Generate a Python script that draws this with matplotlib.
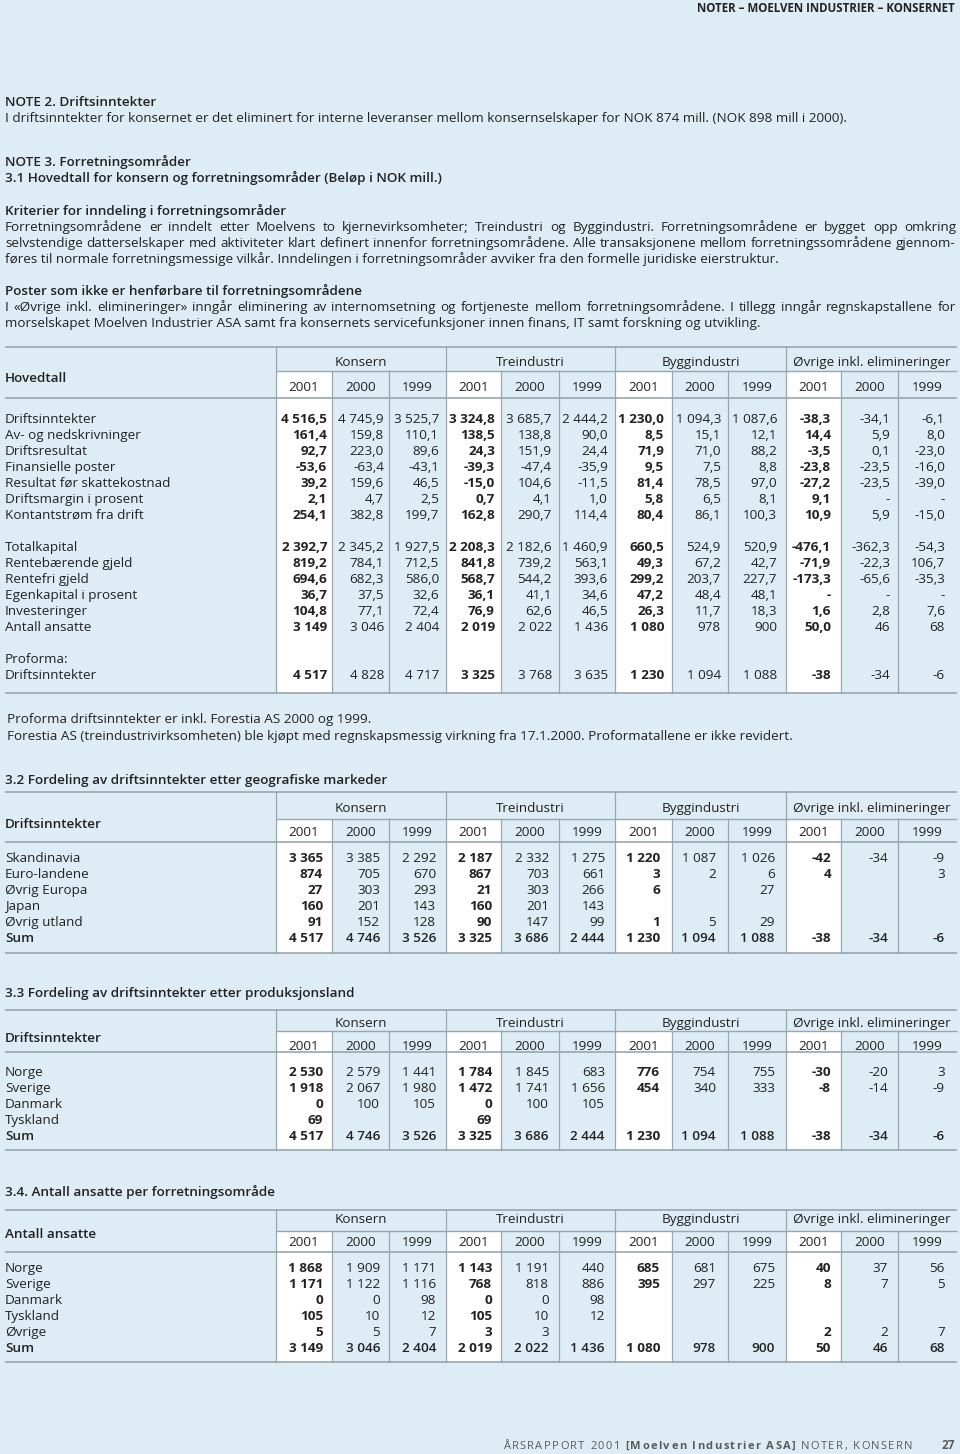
import matplotlib
matplotlib.use("Agg")
import matplotlib.pyplot as plt

plt.rcParams['font.family'] = ['Open Sans', 'DejaVu Sans']

BG = '#deedf5'
INK = '#222222'
RULE = '#98a6ae'

# ---------------------------------------------------------------- data
groups = ["Konsern", "Treindustri", "Byggindustri", "Øvrige inkl. elimineringer"]
years = ["2001", "2000", "1999"]

# 3.1 Hovedtall (NOK mill.)
t1_labels = ["Driftsinntekter", "Av- og nedskrivninger", "Driftsresultat", "Finansielle poster",
             "Resultat før skattekostnad", "Driftsmargin i prosent", "Kontantstrøm fra drift", "",
             "Totalkapital", "Rentebærende gjeld", "Rentefri gjeld", "Egenkapital i prosent",
             "Investeringer", "Antall ansatte", "", "Proforma:", "Driftsinntekter"]
t1_values = [
    ["4 516,5", "4 745,9", "3 525,7", "3 324,8", "3 685,7", "2 444,2", "1 230,0", "1 094,3", "1 087,6", "-38,3", "-34,1", "-6,1"],
    ["161,4", "159,8", "110,1", "138,5", "138,8", "90,0", "8,5", "15,1", "12,1", "14,4", "5,9", "8,0"],
    ["92,7", "223,0", "89,6", "24,3", "151,9", "24,4", "71,9", "71,0", "88,2", "-3,5", "0,1", "-23,0"],
    ["-53,6", "-63,4", "-43,1", "-39,3", "-47,4", "-35,9", "9,5", "7,5", "8,8", "-23,8", "-23,5", "-16,0"],
    ["39,2", "159,6", "46,5", "-15,0", "104,6", "-11,5", "81,4", "78,5", "97,0", "-27,2", "-23,5", "-39,0"],
    ["2,1", "4,7", "2,5", "0,7", "4,1", "1,0", "5,8", "6,5", "8,1", "9,1", "-", "-"],
    ["254,1", "382,8", "199,7", "162,8", "290,7", "114,4", "80,4", "86,1", "100,3", "10,9", "5,9", "-15,0"],
    None,
    ["2 392,7", "2 345,2", "1 927,5", "2 208,3", "2 182,6", "1 460,9", "660,5", "524,9", "520,9", "-476,1", "-362,3", "-54,3"],
    ["819,2", "784,1", "712,5", "841,8", "739,2", "563,1", "49,3", "67,2", "42,7", "-71,9", "-22,3", "106,7"],
    ["694,6", "682,3", "586,0", "568,7", "544,2", "393,6", "299,2", "203,7", "227,7", "-173,3", "-65,6", "-35,3"],
    ["36,7", "37,5", "32,6", "36,1", "41,1", "34,6", "47,2", "48,4", "48,1", "-", "-", "-"],
    ["104,8", "77,1", "72,4", "76,9", "62,6", "46,5", "26,3", "11,7", "18,3", "1,6", "2,8", "7,6"],
    ["3 149", "3 046", "2 404", "2 019", "2 022", "1 436", "1 080", "978", "900", "50,0", "46", "68"],
    None,
    None,
    ["4 517", "4 828", "4 717", "3 325", "3 768", "3 635", "1 230", "1 094", "1 088", "-38", "-34", "-6"],
]

# 3.2 Driftsinntekter etter geografiske markeder
t2_labels = ["Skandinavia", "Euro-landene", "Øvrig Europa", "Japan", "Øvrig utland", "Sum"]
t2_values = [
    ["3 365", "3 385", "2 292", "2 187", "2 332", "1 275", "1 220", "1 087", "1 026", "-42", "-34", "-9"],
    ["874", "705", "670", "867", "703", "661", "3", "2", "6", "4", "", "3"],
    ["27", "303", "293", "21", "303", "266", "6", "", "27", "", "", ""],
    ["160", "201", "143", "160", "201", "143", "", "", "", "", "", ""],
    ["91", "152", "128", "90", "147", "99", "1", "5", "29", "", "", ""],
    ["4 517", "4 746", "3 526", "3 325", "3 686", "2 444", "1 230", "1 094", "1 088", "-38", "-34", "-6"],
]

# 3.3 Driftsinntekter etter produksjonsland
t3_labels = ["Norge", "Sverige", "Danmark", "Tyskland", "Sum"]
t3_values = [
    ["2 530", "2 579", "1 441", "1 784", "1 845", "683", "776", "754", "755", "-30", "-20", "3"],
    ["1 918", "2 067", "1 980", "1 472", "1 741", "1 656", "454", "340", "333", "-8", "-14", "-9"],
    ["0", "100", "105", "0", "100", "105", "", "", "", "", "", ""],
    ["69", "", "", "69", "", "", "", "", "", "", "", ""],
    ["4 517", "4 746", "3 526", "3 325", "3 686", "2 444", "1 230", "1 094", "1 088", "-38", "-34", "-6"],
]

# 3.4 Antall ansatte per forretningsområde
t4_labels = ["Norge", "Sverige", "Danmark", "Tyskland", "Øvrige", "Sum"]
t4_values = [
    ["1 868", "1 909", "1 171", "1 143", "1 191", "440", "685", "681", "675", "40", "37", "56"],
    ["1 171", "1 122", "1 116", "768", "818", "886", "395", "297", "225", "8", "7", "5"],
    ["0", "0", "98", "0", "0", "98", "", "", "", "", "", ""],
    ["105", "10", "12", "105", "10", "12", "", "", "", "", "", ""],
    ["5", "5", "7", "3", "3", "", "", "", "", "2", "2", "7"],
    ["3 149", "3 046", "2 404", "2 019", "2 022", "1 436", "1 080", "978", "900", "50", "46", "68"],
]

# ---------------------------------------------------------------- page
fig = plt.figure(figsize=(9.6, 14.54), dpi=100, facecolor=BG)
ax = fig.add_axes([0, 0, 1, 1])
ax.set_xlim(0, 960)
ax.set_ylim(1454, 0)
ax.axis('off')
ax.set_facecolor(BG)
r = fig.canvas.get_renderer()

FS = 9.7
edges = [276, 332, 389, 446, 501, 559, 615, 672, 728, 786, 841, 898, 957]


def txt(x, y, s, size=FS, weight='normal', ha='left', color=INK):
    return ax.text(x, y, s, fontsize=size, fontweight=weight, ha=ha, va='baseline', color=color)


def justified(x0, x1, y, s, size=FS, weight='normal'):
    words = s.split(' ')
    arts = [txt(0, y, w, size, weight) for w in words]
    widths = [a.get_window_extent(r).width for a in arts]
    gap = (x1 - x0 - sum(widths)) / (len(words) - 1)
    x = x0
    for a, w in zip(arts, widths):
        a.set_x(x)
        x += w + gap


def tracked(x, y, s, size, weight, color, track):
    # letter-spaced text, one glyph at a time
    for ch in s:
        if ch == ' ':
            x += size * 0.35 + track
            continue
        t = txt(x, y, ch, size, weight, color=color)
        x += t.get_window_extent(r).width + track
    return x


def hline(y, x0=5, x1=957, lw=1.0):
    ax.plot([x0, x1], [y, y], color=RULE, lw=lw, solid_capstyle='butt')


def table(top, grp, head, bottom, label, label_y, grp_y, year_y, row_y0,
          labels, values, pads, sum_last=False):
    # white 2001 columns
    for g in range(4):
        x0, x1 = edges[3 * g], edges[3 * g + 1]
        ax.fill_between([x0, x1], grp, bottom, color='white', lw=0)
    # rules
    hline(top, lw=1.2)
    hline(grp, x0=edges[0])
    hline(head, lw=1.2)
    hline(bottom, lw=1.2)
    for i, x in enumerate(edges[:-1]):
        y0 = top if i % 3 == 0 else grp
        ax.plot([x, x], [y0, bottom], color=RULE, lw=0.9)
    # header texts
    txt(5, label_y, label, weight='semibold')
    for g, name in enumerate(groups):
        txt((edges[3 * g] + edges[3 * g + 3]) / 2, grp_y, name, ha='center')
        for k, yr in enumerate(years):
            c = 3 * g + k
            txt((edges[c] + edges[c + 1]) / 2, year_y, yr, ha='center')
    # body
    for i, (lab, row) in enumerate(zip(labels, values)):
        y = row_y0 + 16 * i
        is_sum = sum_last and i == len(labels) - 1
        txt(5, y, lab, weight='semibold' if is_sum else 'normal')
        if row is None:
            continue
        for c, v in enumerate(row):
            w = 'bold' if c % 3 == 0 else ('semibold' if is_sum else 'normal')
            txt(edges[c + 1] - pads[c], y, v, weight=w, ha='right')


# running head
txt(955, 12, "NOTER – MOELVEN INDUSTRIER – KONSERNET", size=8.3, weight='bold', ha='right')

# note text
txt(5, 106, "NOTE 2. Driftsinntekter", weight='semibold')
txt(5, 122, "I driftsinntekter for konsernet er det eliminert for interne leveranser mellom "
            "konsernselskaper for NOK 874 mill. (NOK 898 mill i 2000).")
txt(5, 166, "NOTE 3. Forretningsområder", weight='semibold')
txt(5, 182, "3.1 Hovedtall for konsern og forretningsområder (Beløp i NOK mill.)", weight='semibold')
txt(5, 215, "Kriterier for inndeling i forretningsområder", weight='semibold')
justified(5, 956, 231, "Forretningsområdene er inndelt etter Moelvens to kjernevirksomheter; Treindustri "
                       "og Byggindustri. Forretningsområdene er bygget opp omkring")
justified(5, 956, 247, "selvstendige datterselskaper med aktiviteter klart definert innenfor "
                       "forretningsområdene. Alle transaksjonene mellom forretningssområdene gjennom-")
txt(5, 263, "føres til normale forretningsmessige vilkår. Inndelingen i forretningsområder avviker "
            "fra den formelle juridiske eierstruktur.")
txt(5, 295, "Poster som ikke er henførbare til forretningsområdene", weight='semibold')
justified(5, 956, 311, "I «Øvrige inkl. elimineringer» inngår eliminering av internomsetning og "
                       "fortjeneste mellom forretningsområdene. I tillegg inngår regnskapstallene for")
txt(5, 327, "morselskapet Moelven Industrier ASA samt fra konsernets servicefunksjoner innen finans, "
            "IT samt forskning og utvikling.")

pads1 = [5, 5, 7, 6, 7, 7, 8, 7, 9, 10, 8, 12]
pads2 = [9, 9, 10, 9, 10, 10, 12, 12, 11, 10, 10, 12]

table(347, 371, 398, 693, "Hovedtall", 382, 366, 391, 423, t1_labels, t1_values, pads1)
txt(7, 723, "Proforma driftsinntekter er inkl. Forestia AS 2000 og 1999.")
txt(7, 740, "Forestia AS (treindustrivirksomheten) ble kjøpt med regnskapsmessig virkning fra "
            "17.1.2000. Proformatallene er ikke revidert.")

txt(5, 784, "3.2 Fordeling av driftsinntekter etter geografiske markeder", weight='semibold')
table(792, 819, 842, 953, "Driftsinntekter", 828, 812, 836, 862, t2_labels, t2_values, pads2, True)

txt(5, 997, "3.3 Fordeling av driftsinntekter etter produksjonsland", weight='semibold')
table(1010, 1031, 1052, 1150, "Driftsinntekter", 1042, 1027, 1050, 1076, t3_labels, t3_values, pads2, True)

txt(5, 1196, "3.4. Antall ansatte per forretningsområde", weight='semibold')
table(1210, 1231, 1252, 1362, "Antall ansatte", 1238, 1223, 1246, 1272, t4_labels, t4_values, pads2, True)

# footer
FOOT = '#5a5a5a'
x = 503
x = tracked(x, 1449, "ÅRSRAPPORT 2001 ", 8.0, 'normal', FOOT, 1.4)
x = tracked(x, 1449, "[Moelven Industrier ASA]", 8.0, 'bold', FOOT, 1.4)
tracked(x, 1449, " NOTER, KONSERN", 8.0, 'normal', FOOT, 1.4)
txt(955, 1449, "27", size=8.5, weight='bold', ha='right', color=FOOT)

fig.savefig("out.png", dpi=100, facecolor=BG)
